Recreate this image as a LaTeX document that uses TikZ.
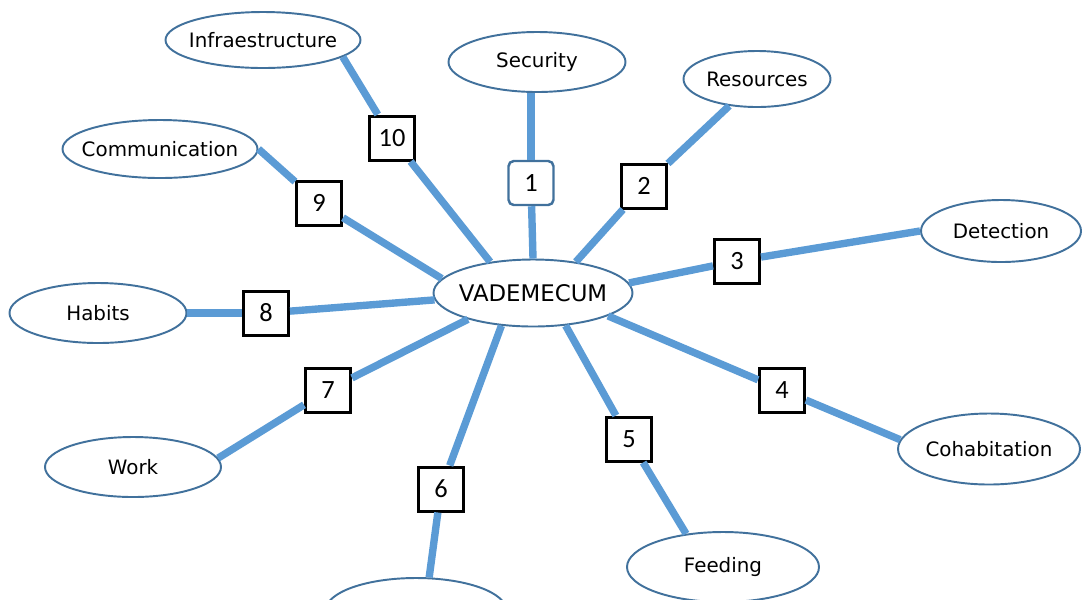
\documentclass[tikz,border=0pt]{standalone}
\usepackage{fontspec}
\setmainfont{DejaVu Sans}
\newfontfamily\numfont{Carlito}
\usetikzlibrary{shapes.geometric}
\definecolor{linkblue}{HTML}{5B9BD5}
\definecolor{rimblue}{HTML}{41719C}

\begin{document}
\begin{tikzpicture}[x=0.2mm, y=-0.2mm]
  % Define style for the nodes
  \tikzstyle{topic}=[ellipse, draw=rimblue, line width=1.1pt, fill=white, inner xsep=-12pt, inner ysep=0pt, font=\fontsize{11.3}{13}\selectfont]
  \tikzstyle{numbox}=[draw=black, line width=1.7pt, fill=white, minimum width=0.9cm, minimum height=0.88cm, inner sep=0pt, font=\numfont\fontsize{15}{17}\selectfont]
  \tikzstyle{link}=[draw=linkblue, line width=4.2pt]

  \clip (0,0) rectangle (1082,599);

  % Central node
  \node[topic, minimum width=3.98cm, minimum height=1.34cm, font=\fontsize{13}{15}\selectfont] (vm) at (533,293) {VADEMECUM};

  % Outer topics
  \begin{scope}
    \node[topic, minimum width=3.9cm, minimum height=1.12cm] (infra) at (263,40) {Infraestructure};
    \node[topic, minimum width=3.54cm, minimum height=1.2cm] (sec) at (537,62) {Security};
    \node[topic, minimum width=2.94cm, minimum height=1.12cm] (res) at (757,79) {Resources};
    \node[topic, minimum width=3.9cm, minimum height=1.16cm] (comm) at (160,149) {Communication};
    \node[topic, minimum width=3.2cm, minimum height=1.24cm] (det) at (1001,231) {Detection};
    \node[topic, minimum width=3.54cm, minimum height=1.2cm] (hab) at (98,313) {Habits};
    \node[topic, minimum width=3.64cm, minimum height=1.42cm] (cohab) at (989,449) {Cohabitation};
    \node[topic, minimum width=3.52cm, minimum height=1.2cm] (work) at (133,467) {Work};
    \node[topic, minimum width=3.84cm, minimum height=1.4cm] (feed) at (723,567) {Feeding};
    \node[topic, minimum width=3.6cm, minimum height=1.28cm] (low) at (416,610) {};
  \end{scope}

  % Numbered boxes
  \node[numbox, rounded corners=3pt, draw=rimblue, line width=1.4pt] (b1) at (531,183) {1};
  \node[numbox] (b2) at (644,186) {2};
  \node[numbox] (b3) at (737,261) {3};
  \node[numbox] (b4) at (782,390) {4};
  \node[numbox] (b5) at (629,439) {5};
  \node[numbox] (b6) at (441,489) {6};
  \node[numbox] (b7) at (328,390) {7};
  \node[numbox] (b8) at (266,313) {8};
  \node[numbox] (b9) at (319,203) {9};
  \node[numbox] (b10) at (392,138) {10};

  % Connect centre to boxes
  \draw[link] (vm.90) -- (b1);
  \draw[link] (vm.36) -- (b2);
  \draw[link] (vm.6) -- (b3);
  \draw[link] (vm.343) -- (b4);
  \draw[link] (vm.315) -- (b5);
  \draw[link] (vm.226) -- (b6);
  \draw[link] (vm.202) -- (b7);
  \draw[link] (vm.184) -- (b8);
  \draw[link] (vm.171) -- (b9);
  \draw[link] (vm.144) -- (b10);

  % Connect boxes to topics
  \draw[link] (b1.north) -- (b1.north |- sec.south);
  \draw[link] (b2) -- (res.224);
  \draw[link] (b3) -- (det.west);
  \draw[link] (b4) -- (cohab.174);
  \draw[link] (b5) -- (feed.138);
  \draw[link] (b6) -- (low.68);
  \draw[link] (b7) -- (work.6);
  \draw[link] (b8) -- (hab.east);
  \draw[link] (b9) -- (comm.east);
  \draw[link] (b10) -- (infra.348);
\end{tikzpicture}
\end{document}
